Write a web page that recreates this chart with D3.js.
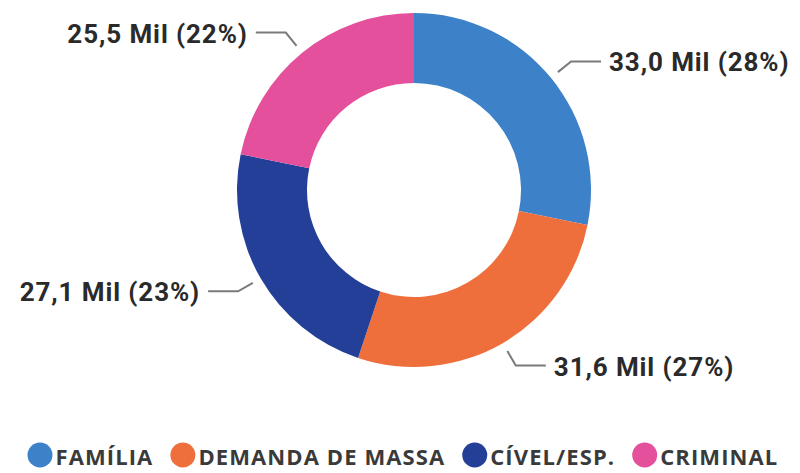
<!DOCTYPE html>
<html>
<head>
<meta charset="utf-8">
<script src="https://cdn.jsdelivr.net/npm/d3@7"></script>
<style>
  html, body { margin: 0; padding: 0; background: #fff; }
  svg { display: block; }
</style>
</head>
<body>
<svg id="chart" width="800" height="473"></svg>
<script>
const categories = ["FAMÍLIA", "DEMANDA DE MASSA", "CÍVEL/ESP.", "CRIMINAL"];
const values = [33.0, 31.6, 27.1, 25.5];
const valueLabels = ["33,0 Mil (28%)", "31,6 Mil (27%)", "27,1 Mil (23%)", "25,5 Mil (22%)"];
const colors = ["#3d82c9", "#ef6f3c", "#233f97", "#e4509c"];

const svg = d3.select("#chart");
const cx = 414, cy = 190;
const outerR = 177, innerR = 107;

const pie = d3.pie().sort(null).value(d => d.value);
const data = categories.map((c, i) => ({ name: c, value: values[i], label: valueLabels[i], color: colors[i] }));
const arcs = pie(data);

const arc = d3.arc().innerRadius(innerR).outerRadius(outerR);
const g = svg.append("g").attr("transform", `translate(${cx},${cy})`);

g.selectAll("path.slice").data(arcs).enter().append("path")
  .attr("class", "slice")
  .attr("d", arc)
  .attr("fill", d => d.data.color);

// leader lines and labels
const r1 = outerR + 9, r2 = outerR + 26, hLen = 30, gap = 8;
arcs.forEach(a => {
  const mid = (a.startAngle + a.endAngle) / 2;
  const sx = Math.sin(mid), sy = -Math.cos(mid);
  const p1 = [r1 * sx, r1 * sy];
  const p2 = [r2 * sx, r2 * sy];
  const right = sx >= 0;
  const p3 = [p2[0] + (right ? hLen : -hLen), p2[1]];
  g.append("polyline")
    .attr("points", [p1, p2, p3].map(p => p.join(",")).join(" "))
    .attr("fill", "none")
    .attr("stroke", "#7a7a7a")
    .attr("stroke-width", 2);
  g.append("text")
    .attr("x", p3[0] + (right ? gap : -gap))
    .attr("y", p3[1] + 1)
    .attr("text-anchor", right ? "start" : "end")
    .attr("dominant-baseline", "central")
    .attr("font-family", "Roboto, sans-serif")
    .attr("font-weight", 700)
    .attr("font-size", 26)
    .attr("letter-spacing", 0.9)
    .attr("fill", "#2a2a2a")
    .text(a.data.label);
});

// legend
const legend = svg.append("g").attr("transform", "translate(0,455)");
const items = legend.selectAll("g.item").data(data).enter().append("g").attr("class", "item");
items.append("circle").attr("r", 12.5).attr("cx", 12.5).attr("cy", 0).attr("fill", d => d.color);
items.append("text")
  .attr("x", 28)
  .attr("y", 1)
  .attr("dominant-baseline", "central")
  .attr("font-family", "'Open Sans', sans-serif")
  .attr("font-weight", 700)
  .attr("font-size", 22)
  .attr("letter-spacing", 1.1)
  .attr("fill", "#3a3a3a")
  .text(d => d.name);
let x = 27.5;
items.each(function() {
  const w = this.querySelector("text").getComputedTextLength();
  d3.select(this).attr("transform", `translate(${x},0)`);
  x += 28 + w + 17;
});
</script>
</body>
</html>
